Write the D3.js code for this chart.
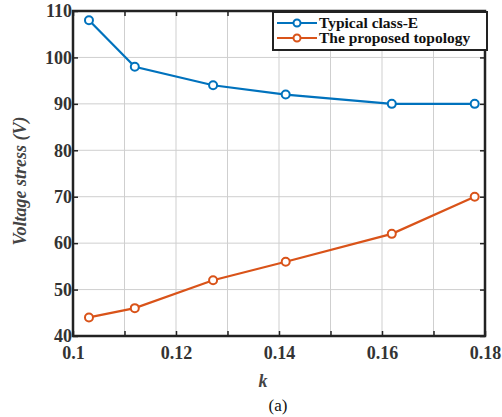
<!DOCTYPE html>
<html>
<head>
<meta charset="utf-8">
<script src="https://cdn.jsdelivr.net/npm/d3@7"></script>
<style>
  body { margin: 0; background: #fff; }
</style>
</head>
<body>
<div id="chart"></div>
<script>
// ---------- DATA ----------
const kValues = [0.1031, 0.112, 0.1272, 0.1413, 0.1619, 0.178];
const classE = [108, 98, 94, 92, 90, 90];
const proposed = [44, 46, 52, 56, 62, 70];
const seriesNames = ['Typical class-E', 'The proposed topology'];
const xTickLabels = [0.1, 0.12, 0.14, 0.16, 0.18];
const yTickLabels = [40, 50, 60, 70, 80, 90, 100, 110];

const FONT = '"Liberation Serif", "DejaVu Serif", "Times New Roman", serif';
const width = 502, height = 417;
const margin = { left: 73, top: 11, right: 17, bottom: 81 };
const colors = ['#0072BD', '#D95319'];

const svg = d3.select('#chart')
  .append('svg')
  .attr('width', width)
  .attr('height', height);

const x = d3.scaleLinear().domain([0.1, 0.18]).range([margin.left, width - margin.right]);
const y = d3.scaleLinear().domain([40, 110]).range([height - margin.bottom, margin.top]);

// grid
const gridX = d3.range(0.1, 0.1801, 0.01);
svg.append('g')
  .selectAll('line')
  .data(gridX)
  .enter()
  .append('line')
  .attr('x1', d => x(d)).attr('x2', d => x(d))
  .attr('y1', y(40)).attr('y2', y(110))
  .attr('stroke', '#cfcfcf').attr('stroke-width', 1);

svg.append('g')
  .selectAll('line')
  .data(yTickLabels)
  .enter()
  .append('line')
  .attr('x1', x(0.1)).attr('x2', x(0.18))
  .attr('y1', d => y(d)).attr('y2', d => y(d))
  .attr('stroke', '#cfcfcf').attr('stroke-width', 1);

// axes (ticks pointing inward)
const axisStyle = g => {
  g.attr('font-family', FONT);
  g.select('.domain').remove();
  g.selectAll('.tick line').attr('stroke', '#222').attr('stroke-width', 1.5);
  g.selectAll('.tick text')
    .attr('fill', '#333')
    .style('font-family', FONT)
    .style('font-size', '18px')
    .style('font-weight', 'bold');
};

svg.append('g')
  .attr('transform', `translate(0, ${y(40)})`)
  .call(d3.axisBottom(x).tickValues(gridX).tickSize(-5).tickPadding(10)
    .tickFormat(d => xTickLabels.some(v => Math.abs(v - d) < 1e-6) ? d3.format('~g')(+d.toFixed(2)) : ''))
  .call(axisStyle);

svg.append('g')
  .attr('transform', `translate(0, ${y(110)})`)
  .call(d3.axisTop(x).tickValues(gridX).tickSize(-5).tickFormat(''))
  .call(axisStyle);

svg.append('g')
  .attr('transform', `translate(${x(0.1)}, 0)`)
  .call(d3.axisLeft(y).tickValues(yTickLabels).tickSize(-5).tickPadding(1))
  .call(axisStyle);

svg.append('g')
  .attr('transform', `translate(${x(0.18)}, 0)`)
  .call(d3.axisRight(y).tickValues(yTickLabels).tickSize(-5).tickFormat(''))
  .call(axisStyle);

// box
svg.append('rect')
  .attr('x', x(0.1)).attr('y', y(110))
  .attr('width', x(0.18) - x(0.1)).attr('height', y(40) - y(110))
  .attr('fill', 'none').attr('stroke', '#222').attr('stroke-width', 2.5);

// lines
const line = d3.line().x(d => x(d[0])).y(d => y(d[1]));
[classE, proposed].forEach((vals, i) => {
  const pts = kValues.map((k, j) => [k, vals[j]]);
  svg.append('path')
    .attr('d', line(pts))
    .attr('fill', 'none')
    .attr('stroke', colors[i])
    .attr('stroke-width', 2.2);
  svg.append('g')
    .selectAll('circle')
    .data(pts)
    .enter()
    .append('circle')
    .attr('cx', d => x(d[0]))
    .attr('cy', d => y(d[1]))
    .attr('r', 4)
    .attr('fill', '#fff')
    .attr('stroke', colors[i])
    .attr('stroke-width', 2);
});

// legend
const lg = svg.append('g');
lg.append('rect')
  .attr('x', 273).attr('y', 12)
  .attr('width', 214).attr('height', 38)
  .attr('fill', '#fff').attr('stroke', '#222').attr('stroke-width', 2);
seriesNames.forEach((name, i) => {
  const cy = 23 + i * 15;
  lg.append('line')
    .attr('x1', 277).attr('x2', 317)
    .attr('y1', cy).attr('y2', cy)
    .attr('stroke', colors[i]).attr('stroke-width', 2.2);
  lg.append('circle')
    .attr('cx', 297).attr('cy', cy).attr('r', 3.5)
    .attr('fill', '#fff').attr('stroke', colors[i]).attr('stroke-width', 2);
  lg.append('text')
    .attr('x', 319).attr('y', cy + 5)
    .style('font-family', FONT)
    .style('font-size', '15.5px').style('font-weight', 'bold')
    .attr('fill', '#111')
    .text(name);
});

// labels
svg.append('text')
  .attr('transform', `translate(26, 181) rotate(-90)`)
  .attr('text-anchor', 'middle')
  .style('font-family', FONT)
  .style('font-size', '18px').style('font-weight', 'bold').style('font-style', 'italic')
  .attr('fill', '#444')
  .text('Voltage stress (V)');

svg.append('text')
  .attr('x', 263).attr('y', 387)
  .attr('text-anchor', 'middle')
  .style('font-family', FONT)
  .style('font-size', '18px').style('font-weight', 'bold').style('font-style', 'italic')
  .attr('fill', '#444')
  .text('k');

svg.append('text')
  .attr('x', 278).attr('y', 411)
  .attr('text-anchor', 'middle')
  .style('font-family', FONT)
  .style('font-size', '17px')
  .attr('fill', '#111')
  .text('(a)');
</script>
</body>
</html>
